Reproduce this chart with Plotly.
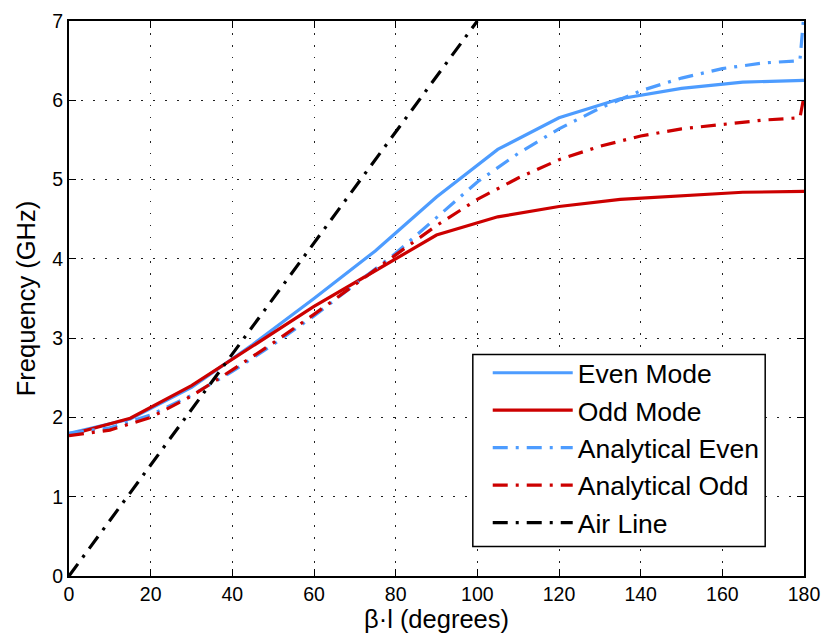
import plotly.graph_objects as go

# Simulated dispersion (piecewise, 15-degree steps)
beta_sim = [0, 15, 30, 45, 60, 75, 90, 105, 120, 135, 150, 165, 180]
even_mode = [1.80, 1.98, 2.38, 2.92, 3.50, 4.10, 4.78, 5.38, 5.78, 6.02, 6.15, 6.23, 6.25]
odd_mode = [1.78, 1.99, 2.40, 2.90, 3.40, 3.85, 4.30, 4.53, 4.66, 4.75, 4.80, 4.84, 4.85]

# Analytical curves
beta_an = [0, 10, 20, 30, 40, 50, 60, 70, 80, 90, 100, 110, 120, 130, 140, 150, 160, 170, 179, 180]
an_even = [1.80, 1.87, 2.03, 2.28, 2.58, 2.92, 3.28, 3.67, 4.07, 4.52, 4.97, 5.33, 5.64, 5.90, 6.12, 6.28, 6.40, 6.47, 6.50, 7.10]
an_odd = [1.77, 1.84, 2.00, 2.27, 2.60, 2.94, 3.30, 3.68, 4.05, 4.42, 4.75, 5.02, 5.25, 5.42, 5.55, 5.64, 5.70, 5.75, 5.78, 6.05]

# Air line
beta_air = [0, 100]
air_line = [0, 7]

BLUE = "#4d9cff"
RED = "#cc0000"
DASHDOT = "15px,8px,3px,8px"
FONT = "Liberation Sans, Arial"

fig = go.Figure()
fig.add_trace(go.Scatter(x=beta_sim, y=even_mode, mode="lines", name="Even Mode",
                         line=dict(color=BLUE, width=3.2)))
fig.add_trace(go.Scatter(x=beta_sim, y=odd_mode, mode="lines", name="Odd Mode",
                         line=dict(color=RED, width=3.2)))
fig.add_trace(go.Scatter(x=beta_an, y=an_even, mode="lines", name="Analytical Even",
                         line=dict(color=BLUE, width=3.2, dash=DASHDOT)))
fig.add_trace(go.Scatter(x=beta_an, y=an_odd, mode="lines", name="Analytical Odd",
                         line=dict(color=RED, width=3.2, dash=DASHDOT)))
fig.add_trace(go.Scatter(x=beta_air, y=air_line, mode="lines", name="Air Line",
                         line=dict(color="black", width=3.2, dash=DASHDOT)))

axis_common = dict(
    showline=True, linecolor="black", linewidth=2, mirror="ticks",
    ticks="inside", ticklen=7, tickcolor="black", tickwidth=1,
    showgrid=True, gridcolor="#222222", gridwidth=1, griddash="1.5px,10.5px",
    zeroline=False,
    tickfont=dict(family=FONT, size=19.5, color="black"),
    title_font=dict(family=FONT, size=25.5, color="black"),
)

fig.update_xaxes(range=[0, 180], tickvals=[0, 20, 40, 60, 80, 100, 120, 140, 160, 180],
                 title_text="β·l (degrees)", title_standoff=5, **axis_common)
fig.update_yaxes(range=[0, 7], tickvals=[0, 1, 2, 3, 4, 5, 6, 7],
                 title_text="Frequency (GHz)", title_standoff=9, **axis_common)

# legend frame (white box with black border), legend drawn on top of it
fig.add_shape(type="rect", xref="paper", yref="paper",
              x0=0.5494, x1=0.9472, y0=0.053, y1=0.3993,
              fillcolor="white", line=dict(color="black", width=1.5), layer="above")

fig.update_layout(
    width=830, height=642,
    margin=dict(l=69, r=22, t=10, b=66),
    plot_bgcolor="white", paper_bgcolor="white",
    font=dict(family=FONT, color="black"),
    legend=dict(x=0.5697, y=0.409, xanchor="left", yanchor="top",
                bgcolor="rgba(0,0,0,0)", borderwidth=0,
                font=dict(family=FONT, size=26.5, color="black"),
                itemwidth=80),
    showlegend=True,
)

fig.write_html("out.html")
